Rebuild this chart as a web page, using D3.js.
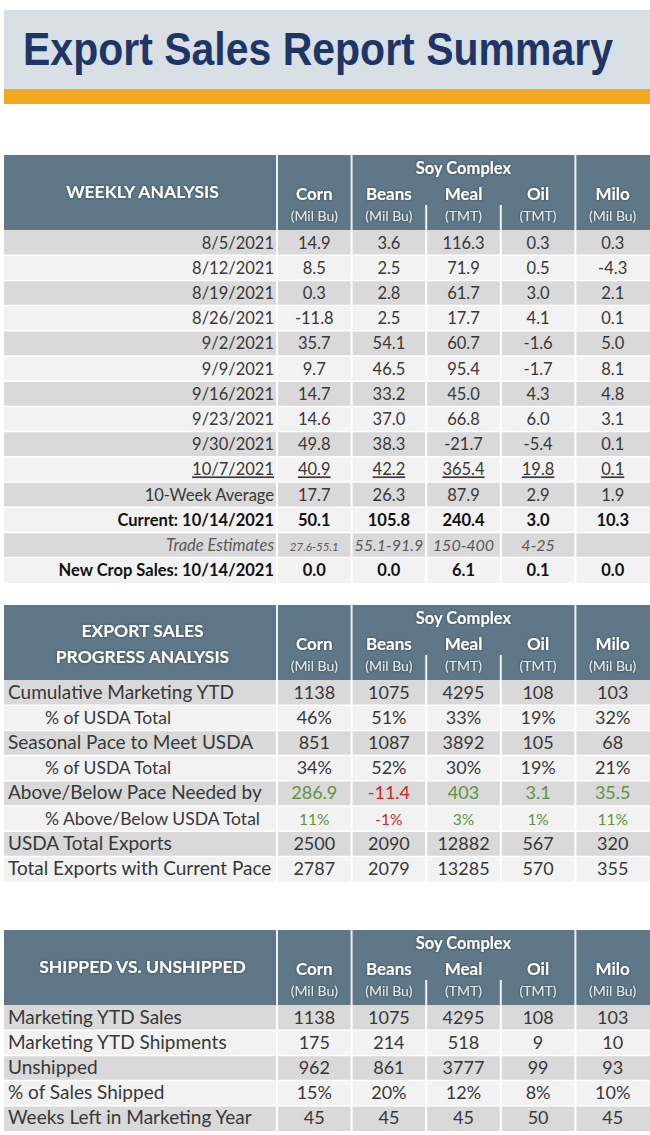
<!DOCTYPE html>
<html>
<head>
<meta charset="utf-8">
<script src="https://cdn.jsdelivr.net/npm/d3@7"></script>
<style>
  body { margin: 0; background: #fff; }
  svg { display: block; }
</style>
</head>
<body>
<div id="chart"></div>
<script>
// ---- data ----
const reportTitle = 'Export Sales Report Summary';
const commodities = ['Corn', 'Beans', 'Meal', 'Oil', 'Milo'];
const units = ['(Mil Bu)', '(Mil Bu)', '(TMT)', '(TMT)', '(Mil Bu)'];
const soyGroup = ['Beans', 'Meal', 'Oil'];
const soyLabel = 'Soy Complex';

const weeklyDates = ['8/5/2021', '8/12/2021', '8/19/2021', '8/26/2021', '9/2/2021',
  '9/9/2021', '9/16/2021', '9/23/2021', '9/30/2021', '10/7/2021'];
const weeklySales = [
  [14.9, 3.6, 116.3, 0.3, 0.3],
  [8.5, 2.5, 71.9, 0.5, -4.3],
  [0.3, 2.8, 61.7, 3.0, 2.1],
  [-11.8, 2.5, 17.7, 4.1, 0.1],
  [35.7, 54.1, 60.7, -1.6, 5.0],
  [9.7, 46.5, 95.4, -1.7, 8.1],
  [14.7, 33.2, 45.0, 4.3, 4.8],
  [14.6, 37.0, 66.8, 6.0, 3.1],
  [49.8, 38.3, -21.7, -5.4, 0.1],
  [40.9, 42.2, 365.4, 19.8, 0.1]
];
const tenWeekAverage = [17.7, 26.3, 87.9, 2.9, 1.9];
const currentWeek = [50.1, 105.8, 240.4, 3.0, 10.3];
const tradeEstimates = ['27.6-55.1', '55.1-91.9', '150-400', '4-25', ''];
const newCropSales = [0.0, 0.0, 6.1, 0.1, 0.0];

const progressLabels = ['Cumulative Marketing YTD', '% of USDA Total', 'Seasonal Pace to Meet USDA',
  '% of USDA Total', 'Above/Below Pace Needed by', '% Above/Below USDA Total',
  'USDA Total Exports', 'Total Exports with Current Pace'];
const cumulativeYTD = [1138, 1075, 4295, 108, 103];
const cumulativePct = [46, 51, 33, 19, 32];
const seasonalPace = [851, 1087, 3892, 105, 68];
const seasonalPct = [34, 52, 30, 19, 21];
const paceDiff = [286.9, -11.4, 403, 3.1, 35.5];
const paceDiffPct = [11, -1, 3, 1, 11];
const usdaTotal = [2500, 2090, 12882, 567, 320];
const currentPaceTotal = [2787, 2079, 13285, 570, 355];

const shippedLabels = ['Marketing YTD Sales', 'Marketing YTD Shipments', 'Unshipped',
  '% of Sales Shipped', 'Weeks Left in Marketing Year'];
const ytdSales = [1138, 1075, 4295, 108, 103];
const ytdShipments = [175, 214, 518, 9, 10];
const unshipped = [962, 861, 3777, 99, 93];
const pctShipped = [15, 20, 12, 8, 10];
const weeksLeft = [45, 45, 45, 50, 45];

// ---- formats (plain hyphen for negatives, as in the report) ----
const locale = d3.formatLocale({decimal: '.', thousands: ',', grouping: [3], currency: ['$', ''], minus: '-'});
const f1 = locale.format('.1f');
const fInt = locale.format('d');
const fPct = d => fInt(d) + '%';
const fRaw = d => String(d);

// ---- table rows built from the arrays above ----
const weeklyRows = weeklyDates.map((d, i) => ({
  label: d, values: weeklySales[i], fmt: f1,
  kind: i === weeklyDates.length - 1 ? 'underline' : 'plain'
})).concat([
  {label: '10-Week Average', values: tenWeekAverage, fmt: f1, kind: 'plain'},
  {label: 'Current: 10/14/2021', values: currentWeek, fmt: f1, kind: 'bold'},
  {label: 'Trade Estimates', values: tradeEstimates, fmt: fRaw, kind: 'estimate'},
  {label: 'New Crop Sales: 10/14/2021', values: newCropSales, fmt: f1, kind: 'bold'}
]);

const progressValues = [cumulativeYTD, cumulativePct, seasonalPace, seasonalPct,
  paceDiff, paceDiffPct, usdaTotal, currentPaceTotal];
const progressKinds = ['main', 'pct', 'main', 'pct', 'diff', 'diffPct', 'main', 'main'];
const progressRows = progressLabels.map((l, i) => ({
  label: l, values: progressValues[i], kind: progressKinds[i],
  fmt: progressKinds[i] === 'diff' ? fRaw : (progressKinds[i].includes('ct') ? fPct : fInt)
}));

const shippedValues = [ytdSales, ytdShipments, unshipped, pctShipped, weeksLeft];
const shippedRows = shippedLabels.map((l, i) => ({
  label: l, values: shippedValues[i], kind: 'left',
  fmt: i === 3 ? fPct : fInt
}));

// ---- layout ----
const width = 650, height = 1135;
const left = 4, labelRight = 277;
const headerH = 75, rowH = 25.2;
const font = "Lato, 'Noto Sans', sans-serif";

const headerFill = '#5f7787';
const rowFills = ['#d9d9d9', '#f2f2f2'];
const textColor = '#383838';
const green = '#5f9341', red = '#c42a2a';

const svg = d3.select('#chart').append('svg')
  .attr('width', width).attr('height', height);

// soft dark halo behind the white header text
const defs = svg.append('defs');
defs.append('filter').attr('id', 'halo').attr('x', '-10%').attr('y', '-30%')
  .attr('width', '120%').attr('height', '160%')
  .append('feDropShadow').attr('dx', 0).attr('dy', 0).attr('stdDeviation', 0.9)
  .attr('flood-color', '#1d2a33').attr('flood-opacity', 0.7);

// title banner
svg.append('rect').attr('x', left).attr('y', 10).attr('width', width - left).attr('height', 79)
  .attr('fill', '#d9e0e5');
svg.append('rect').attr('x', left).attr('y', 89).attr('width', width - left).attr('height', 15)
  .attr('fill', '#f0a820');
// the report's title is a little taller than it is wide, so stretch it vertically
svg.append('text')
  .attr('transform', 'translate(23,65) scale(1,1.12)')
  .attr('font-family', "'Liberation Sans', Arial, sans-serif").attr('font-weight', 700)
  .attr('font-size', 41).attr('fill', '#1f3566')
  .text(reportTitle);

// column scale shared by all three tables
const x = d3.scaleBand().domain(commodities).range([labelRight, width]);

function drawTable(top, titleLines, rows) {
  const g = svg.append('g');
  const bodyTop = top + headerH;
  const y = d3.scaleBand().domain(d3.range(rows.length))
    .range([bodyTop, bodyTop + rows.length * rowH]);
  const bodyBottom = y.range()[1];

  // header block
  g.append('rect').attr('x', left).attr('y', top).attr('width', width - left).attr('height', headerH)
    .attr('fill', headerFill);

  const hdr = g.append('g').attr('fill', '#fff').attr('font-family', font)
    .attr('text-anchor', 'middle').attr('filter', 'url(#halo)');

  const titleY = titleLines.length === 1 ? [top + 43] : [top + 32, top + 58];
  hdr.selectAll('.ttl').data(titleLines).join('text')
    .attr('class', 'ttl')
    .attr('x', (left + labelRight) / 2 + 2).attr('y', (d, i) => titleY[i])
    .attr('font-size', 17.5).attr('font-weight', 700)
    .text(d => d);

  hdr.append('text')
    .attr('x', (x(soyGroup[0]) + x(soyGroup[2]) + x.bandwidth()) / 2)
    .attr('y', top + 19).attr('font-size', 16.5).attr('font-weight', 700)
    .text(soyLabel);

  hdr.selectAll('.com').data(commodities).join('text')
    .attr('class', 'com')
    .attr('x', d => x(d) + x.bandwidth() / 2).attr('y', top + 45)
    .attr('font-size', 17).attr('font-weight', 700)
    .text(d => d);

  hdr.selectAll('.unit').data(units).join('text')
    .attr('class', 'unit')
    .attr('x', (d, i) => x(commodities[i]) + x.bandwidth() / 2).attr('y', top + 66)
    .attr('font-size', 14).attr('fill', '#e3e8ec')
    .text(d => d);

  // header dividers: full height except inside the soy complex group
  const dividers = [labelRight].concat(commodities.slice(1).map(c => x(c)));
  g.selectAll('.hdiv').data(dividers).join('line')
    .attr('class', 'hdiv')
    .attr('x1', d => d).attr('x2', d => d)
    .attr('y1', d => (d === x('Meal') || d === x('Oil')) ? top + 50 : top)
    .attr('y2', bodyTop)
    .attr('stroke', '#eef1f3').attr('stroke-width', 2);

  // body rows
  const row = g.selectAll('.row').data(rows).join('g').attr('class', 'row');

  row.append('rect')
    .attr('x', left).attr('y', (d, i) => y(i))
    .attr('width', width - left).attr('height', y.bandwidth())
    .attr('fill', (d, i) => rowFills[i % 2]);

  g.selectAll('.hline').data(d3.range(1, rows.length)).join('line')
    .attr('class', 'hline')
    .attr('x1', left).attr('x2', width)
    .attr('y1', i => y(i)).attr('y2', i => y(i))
    .attr('stroke', '#fff').attr('stroke-width', 1.5);

  g.selectAll('.vdiv').data(dividers).join('line')
    .attr('class', 'vdiv')
    .attr('x1', d => d).attr('x2', d => d)
    .attr('y1', bodyTop).attr('y2', bodyBottom)
    .attr('stroke', '#fff').attr('stroke-width', 2);

  // labels
  row.append('text')
    .attr('x', d => d.kind === 'pct' || d.kind === 'diffPct' ? 45
      : (d.kind === 'main' || d.kind === 'diff' || d.kind === 'left') ? 8 : labelRight - 3)
    .attr('y', (d, i) => y(i) + y.bandwidth() / 2 + 6)
    .attr('text-anchor', d => ['main', 'diff', 'pct', 'diffPct', 'left'].includes(d.kind) ? 'start' : 'end')
    .attr('font-family', font)
    .attr('font-size', d => d.kind === 'pct' || d.kind === 'diffPct' ? 17.5
      : (d.kind === 'main' || d.kind === 'diff' || d.kind === 'left') ? 19 : 16.5)
    .attr('font-weight', d => d.kind === 'bold' ? 700 : 400)
    .attr('font-style', d => d.kind === 'estimate' ? 'italic' : 'normal')
    .attr('text-decoration', d => d.kind === 'underline' ? 'underline' : 'none')
    .attr('fill', d => d.kind === 'bold' ? '#111' : d.kind === 'estimate' ? '#5a5a5a' : textColor)
    .text(d => d.label);

  // values
  row.each(function(d, i) {
    const cy = y(i) + y.bandwidth() / 2 + 6;
    d3.select(this).selectAll('.val').data(d.values.map((v, j) => ({v, c: commodities[j], row: d})))
      .join('text')
      .attr('class', 'val')
      .attr('x', e => x(e.c) + x.bandwidth() / 2)
      .attr('y', cy)
      .attr('text-anchor', 'middle')
      .attr('font-family', font)
      .attr('font-size', e => {
        if (d.kind === 'estimate') return e.c === 'Corn' ? 11.5 : 16;
        if (d.kind === 'diffPct') return 15.5;
        if (['main', 'pct', 'diff', 'left'].includes(d.kind)) return 18;
        return 16.5;
      })
      .attr('font-weight', d.kind === 'bold' ? 700 : 400)
      .attr('font-style', d.kind === 'estimate' ? 'italic' : 'normal')
      .attr('text-decoration', d.kind === 'underline' ? 'underline' : 'none')
      .attr('fill', e => {
        if (d.kind === 'diff' || d.kind === 'diffPct') return e.v < 0 ? red : green;
        if (d.kind === 'bold') return '#111';
        if (d.kind === 'estimate') return '#5a5a5a';
        return textColor;
      })
      .text(e => d.fmt(e.v));
  });
}

drawTable(155, ['WEEKLY ANALYSIS'], weeklyRows);
drawTable(605, ['EXPORT SALES', 'PROGRESS ANALYSIS'], progressRows);
drawTable(930, ['SHIPPED VS. UNSHIPPED'], shippedRows);
</script>
</body>
</html>
